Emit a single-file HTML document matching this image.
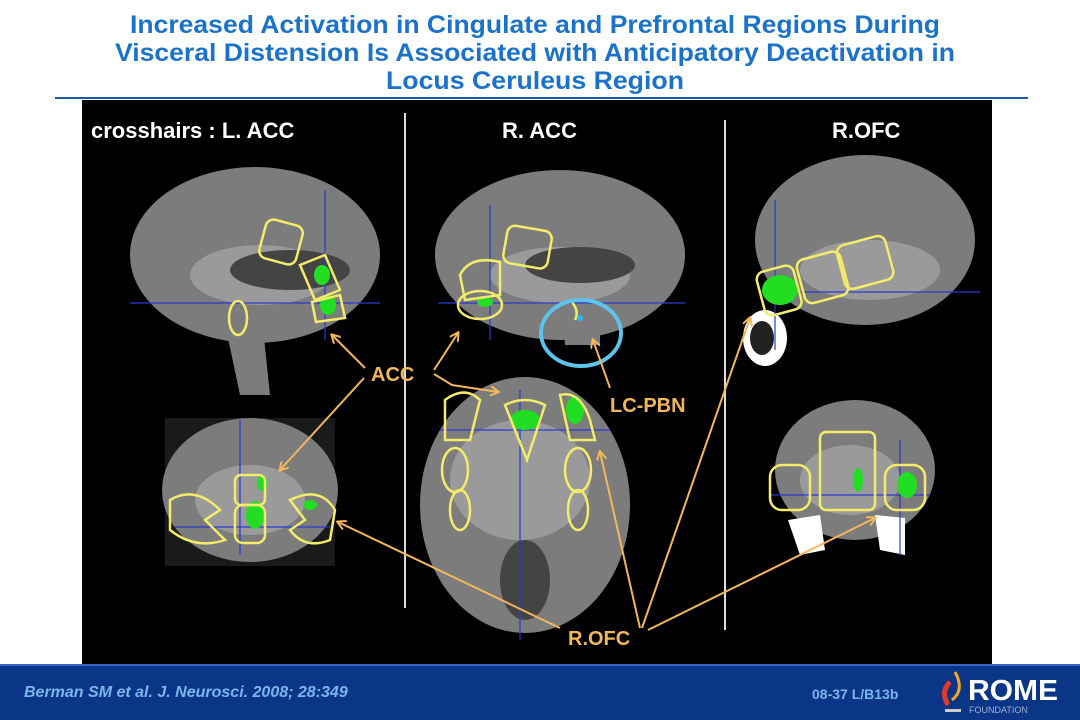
<!DOCTYPE html>
<html><head><meta charset="utf-8"><style>
html,body{margin:0;padding:0;background:#fff;width:1080px;height:720px;overflow:hidden}
svg{display:block}
</style></head><body>
<svg width="1080" height="720" viewBox="0 0 1080 720" xmlns="http://www.w3.org/2000/svg" font-family="Liberation Sans, Arial, sans-serif">
<rect width="1080" height="720" fill="#fff"/>
<g fill="#1a73c9" font-weight="bold" font-size="25" text-anchor="middle">
<text x="535" y="33" textLength="810" lengthAdjust="spacingAndGlyphs">Increased Activation in Cingulate and Prefrontal Regions During</text>
<text x="535" y="61" textLength="840" lengthAdjust="spacingAndGlyphs">Visceral Distension Is Associated with Anticipatory Deactivation in</text>
<text x="535" y="89" textLength="298" lengthAdjust="spacingAndGlyphs">Locus Ceruleus Region</text>
</g>
<rect x="55" y="97" width="973" height="2" fill="#1a5aa8"/>
<rect x="82" y="100" width="910" height="566" fill="#000"/>
<!-- brains -->
<g fill="#7c7c7c">
<ellipse cx="255" cy="255" rx="125" ry="88"/>
<path d="M220 300 L260 300 L270 395 L240 395 Z"/>
<rect x="165" y="418" width="170" height="148" fill="#1a1a1a"/>
<ellipse cx="250" cy="490" rx="88" ry="72"/>
<ellipse cx="560" cy="255" rx="125" ry="85"/>
<path d="M560 290 L600 290 L600 345 L565 345 Z"/>
<ellipse cx="525" cy="505" rx="105" ry="128"/>
<ellipse cx="865" cy="240" rx="110" ry="85"/>
<ellipse cx="855" cy="470" rx="80" ry="70"/>
</g>
<g fill="#9a9a9a">
<ellipse cx="260" cy="275" rx="70" ry="30"/>
<ellipse cx="560" cy="275" rx="70" ry="28"/>
<ellipse cx="520" cy="480" rx="70" ry="60"/>
<ellipse cx="870" cy="270" rx="70" ry="30"/>
<ellipse cx="250" cy="500" rx="55" ry="35"/>
<ellipse cx="850" cy="480" rx="50" ry="35"/>
</g>
<g fill="#444">
<ellipse cx="290" cy="270" rx="60" ry="20"/>
<ellipse cx="580" cy="265" rx="55" ry="18"/>
<ellipse cx="525" cy="580" rx="25" ry="40"/>
</g>
<g fill="#fff">
<ellipse cx="765" cy="338" rx="22" ry="28"/>
<path d="M788 520 L820 515 L825 550 L800 555 Z"/>
<path d="M875 515 L905 518 L905 555 L880 550 Z"/>
</g>
<ellipse cx="762" cy="338" rx="12" ry="17" fill="#222"/>
<!-- crosshairs -->
<g stroke="#2a3ad0" stroke-width="1.2">
<line x1="130" y1="303" x2="380" y2="303"/><line x1="325" y1="190" x2="325" y2="340"/>
<line x1="175" y1="527" x2="330" y2="527"/><line x1="240" y1="420" x2="240" y2="555"/>
<line x1="438" y1="303" x2="685" y2="303"/><line x1="490" y1="205" x2="490" y2="340"/>
<line x1="440" y1="430" x2="610" y2="430"/><line x1="520" y1="390" x2="520" y2="640"/>
<line x1="760" y1="292" x2="980" y2="292"/><line x1="775" y1="200" x2="775" y2="350"/>
<line x1="770" y1="495" x2="930" y2="495"/><line x1="900" y1="440" x2="900" y2="555"/>
</g>
<!-- dividers -->
<line x1="405" y1="113" x2="405" y2="608" stroke="#ddd" stroke-width="2"/>
<line x1="725" y1="120" x2="725" y2="630" stroke="#ddd" stroke-width="2"/>
<!-- green -->
<g fill="#22dd22">
<ellipse cx="322" cy="275" rx="8" ry="10"/><ellipse cx="328" cy="305" rx="8" ry="10"/>
<ellipse cx="255" cy="515" rx="9" ry="14"/><ellipse cx="310" cy="505" rx="7" ry="5"/><ellipse cx="262" cy="483" rx="5" ry="8"/>
<ellipse cx="485" cy="302" rx="8" ry="5"/>
<ellipse cx="575" cy="410" rx="9" ry="14"/><ellipse cx="525" cy="420" rx="15" ry="10"/>
<ellipse cx="780" cy="290" rx="18" ry="15"/>
<ellipse cx="907" cy="485" rx="10" ry="13"/><ellipse cx="858" cy="480" rx="5" ry="12"/>
</g>
<!-- yellow outlines -->
<g fill="none" stroke="#f3ec6a" stroke-width="2.5">
<rect x="262" y="222" width="38" height="40" rx="8" transform="rotate(15 281 242)"/>
<path d="M300 265 L325 255 L340 290 L315 300 Z"/><path d="M312 302 L340 295 L345 318 L316 322 Z"/>
<ellipse cx="238" cy="318" rx="9" ry="17"/>
<rect x="235" y="475" width="30" height="30" rx="6"/><rect x="235" y="505" width="30" height="38" rx="8"/>
<path d="M170 500 Q195 485 220 510 L205 520 L225 540 Q195 550 170 530 Z"/>
<path d="M290 500 Q320 485 335 510 L330 540 Q305 550 290 530 L305 520 Z"/>
<rect x="505" y="228" width="45" height="38" rx="8" transform="rotate(10 527 247)"/>
<path d="M460 275 Q470 255 500 262 L500 295 L465 300 Z"/>
<ellipse cx="480" cy="305" rx="22" ry="14"/>
<path d="M570 300 Q580 310 575 320"/>
<path d="M445 400 Q465 385 480 400 L470 440 L445 440 Z"/>
<path d="M505 405 Q525 395 545 405 L527 460 Z"/>
<path d="M560 395 Q580 390 590 420 L595 440 L570 440 Z"/>
<ellipse cx="455" cy="470" rx="13" ry="22"/><ellipse cx="460" cy="510" rx="10" ry="20"/>
<ellipse cx="578" cy="470" rx="13" ry="22"/><ellipse cx="578" cy="510" rx="10" ry="20"/>
<rect x="760" y="268" width="38" height="45" rx="8" transform="rotate(-15 779 290)"/>
<rect x="800" y="255" width="45" height="45" rx="8" transform="rotate(-15 822 277)"/>
<rect x="840" y="240" width="50" height="45" rx="8" transform="rotate(-15 865 262)"/>
<rect x="820" y="432" width="55" height="78" rx="6"/>
<rect x="770" y="465" width="40" height="45" rx="12"/><rect x="885" y="465" width="40" height="45" rx="12"/>
</g>
<ellipse cx="581" cy="333" rx="40" ry="33" fill="none" stroke="#5ec3ea" stroke-width="4"/>
<circle cx="580" cy="318" r="3" fill="#29b5ff"/>
<!-- arrows -->
<defs><marker id="a" markerWidth="10" markerHeight="10" refX="8" refY="5" orient="auto" markerUnits="userSpaceOnUse"><path d="M0 0 L9 5 L0 10" fill="none" stroke="#f2b75c" stroke-width="2"/></marker></defs>
<g stroke="#f2b75c" stroke-width="2" fill="none" marker-end="url(#a)">
<line x1="365" y1="368" x2="332" y2="335"/>
<line x1="364" y1="378" x2="280" y2="470"/>
<line x1="434" y1="370" x2="458" y2="333"/>
<polyline points="434,374 452,385 498,392"/>
<line x1="610" y1="388" x2="593" y2="340"/>
<line x1="560" y1="628" x2="338" y2="522"/>
<line x1="640" y1="628" x2="600" y2="452"/>
<line x1="642" y1="628" x2="750" y2="318"/>
<line x1="648" y1="630" x2="875" y2="518"/>
</g>
<g font-weight="bold" font-size="20" fill="#f2b75c">
<text x="371" y="381">ACC</text>
<text x="610" y="412">LC-PBN</text>
<text x="568" y="645">R.OFC</text>
</g>
<g fill="#fff" font-size="22" font-weight="bold">
<text x="91" y="138">crosshairs :  L. ACC</text>
<text x="502" y="138">R. ACC</text>
<text x="832" y="138">R.OFC</text>
</g>
<!-- footer -->
<rect x="0" y="665" width="1080" height="55" fill="#0b3586"/>
<rect x="0" y="664" width="1080" height="2" fill="#3a63c0"/>
<text x="24" y="697" fill="#7ab6ee" font-size="16" font-weight="bold" font-style="italic">Berman SM et al. J. Neurosci. 2008; 28:349</text>
<text x="812" y="699" fill="#7ab6ee" font-size="14" font-weight="bold">08-37   L/B13b</text>
<path d="M950 682 Q940 692 948 705" stroke="#e03a2a" stroke-width="5" fill="none"/>
<path d="M955 672 Q965 690 952 700" stroke="#f2a72c" stroke-width="3" fill="none"/>
<rect x="945" y="709" width="16" height="3" fill="#ccc"/>
<text x="968" y="700" fill="#fff" font-size="29" font-weight="bold" textLength="90" lengthAdjust="spacingAndGlyphs">ROME</text>
<text x="969" y="713" fill="#9fb3d6" font-size="9">FOUNDATION</text>
</svg>
</body></html>
